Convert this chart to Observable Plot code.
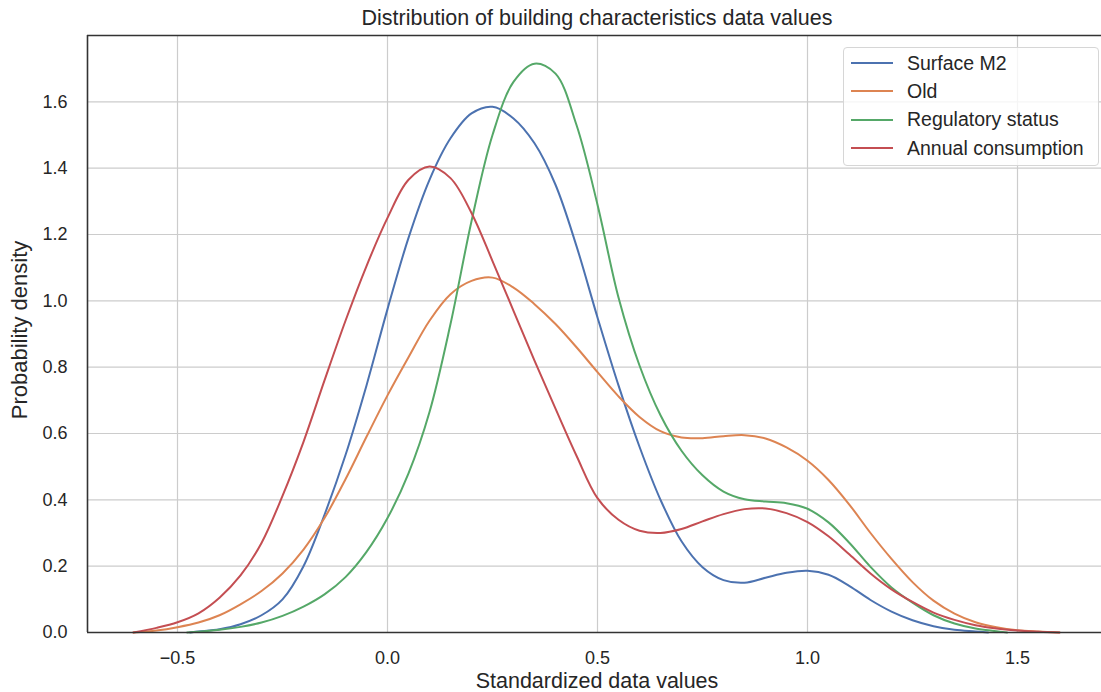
<!DOCTYPE html>
<html>
<head>
<meta charset="utf-8">
<script src="https://cdn.jsdelivr.net/npm/d3@7"></script>
<script src="https://cdn.jsdelivr.net/npm/@observablehq/plot@0.6"></script>
<style>
  body { margin: 0; background: white; }
  #wrap { position: relative; width: 1101px; height: 692px; overflow: hidden; font-family: "Liberation Sans", Arial, sans-serif; color: #262626; }
  #title { position: absolute; left: 87px; width: 1020px; top: 6px; text-align: center; font-size: 21.5px; line-height: 24px; white-space: nowrap; }
  #xlabel { position: absolute; left: 87px; width: 1020px; top: 671px; text-align: center; font-size: 21.5px; line-height: 21px; white-space: nowrap; }
  #ylabel { position: absolute; left: 20px; top: 330px; transform: translate(-50%, -50%) rotate(-90deg); font-size: 22px; line-height: 22px; white-space: nowrap; }
  #chart { position: absolute; left: 0; top: 32px; }
  #legend { position: absolute; left: 843px; top: 47px; width: 256px; height: 119px; border: 1px solid #d6d6d6; border-radius: 4px; background: rgba(255,255,255,0.8); box-sizing: border-box; padding-top: 1px; }
  .row { height: 28.3px; display: flex; align-items: center; font-size: 19.5px; white-space: nowrap; }
  .swatch { width: 42px; height: 2px; margin-left: 7px; margin-right: 14px; flex: none; }
</style>
</head>
<body>
<div id="wrap">
  <div id="chart"></div>
  <div id="title">Distribution of building characteristics data values</div>
  <div id="xlabel">Standardized data values</div>
  <div id="ylabel">Probability density</div>
  <div id="legend"></div>
</div>
<script>
const seriesNames = ["Surface M2", "Old", "Regulatory status", "Annual consumption"];
const seriesColors = ["#4c72b0", "#dd8452", "#55a868", "#c44e52"];
const xTicks = [-0.5, 0.0, 0.5, 1.0, 1.5];
const yTicks = [0.0, 0.2, 0.4, 0.6, 0.8, 1.0, 1.2, 1.4, 1.6];

const surfaceX = [-0.47,-0.45,-0.40,-0.35,-0.30,-0.25,-0.20,-0.15,-0.10,-0.05,0.00,0.05,0.10,0.15,0.20,0.25,0.30,0.35,0.40,0.45,0.50,0.55,0.60,0.65,0.70,0.75,0.80,0.85,0.90,0.95,1.00,1.05,1.10,1.15,1.20,1.25,1.30,1.35,1.40,1.43];
const surfaceY = [0,0.003,0.010,0.025,0.052,0.10,0.20,0.355,0.535,0.745,0.975,1.19,1.365,1.49,1.565,1.585,1.55,1.475,1.35,1.165,0.95,0.745,0.56,0.40,0.275,0.197,0.158,0.15,0.165,0.18,0.186,0.174,0.14,0.098,0.063,0.037,0.019,0.008,0.003,0];

const oldX = [-0.605,-0.55,-0.50,-0.45,-0.40,-0.35,-0.30,-0.25,-0.20,-0.15,-0.10,-0.05,0.00,0.05,0.10,0.15,0.20,0.25,0.30,0.35,0.40,0.45,0.50,0.55,0.60,0.65,0.70,0.75,0.80,0.85,0.90,0.95,1.00,1.05,1.10,1.15,1.20,1.25,1.30,1.35,1.40,1.45,1.50,1.55,1.60];
const oldY = [0,0.006,0.016,0.03,0.052,0.085,0.125,0.178,0.25,0.345,0.462,0.59,0.715,0.83,0.94,1.02,1.06,1.07,1.04,0.99,0.93,0.86,0.785,0.712,0.65,0.607,0.588,0.586,0.592,0.595,0.585,0.558,0.518,0.46,0.385,0.3,0.222,0.152,0.096,0.057,0.031,0.016,0.007,0.003,0];

const regX = [-0.477,-0.45,-0.40,-0.35,-0.30,-0.25,-0.20,-0.15,-0.10,-0.05,0.00,0.05,0.10,0.15,0.20,0.25,0.30,0.35,0.40,0.45,0.50,0.55,0.60,0.65,0.70,0.75,0.80,0.85,0.90,0.95,1.00,1.05,1.10,1.15,1.20,1.25,1.30,1.35,1.40,1.45,1.475];
const regY = [0,0.002,0.008,0.017,0.03,0.05,0.078,0.115,0.167,0.243,0.345,0.48,0.665,0.93,1.24,1.50,1.66,1.715,1.685,1.53,1.29,1.01,0.805,0.655,0.548,0.474,0.425,0.402,0.395,0.39,0.373,0.332,0.27,0.198,0.136,0.09,0.052,0.027,0.012,0.004,0];

const annualX = [-0.605,-0.55,-0.50,-0.45,-0.40,-0.35,-0.30,-0.25,-0.20,-0.15,-0.10,-0.05,0.00,0.05,0.10,0.15,0.20,0.25,0.30,0.35,0.40,0.45,0.50,0.55,0.60,0.65,0.70,0.75,0.80,0.85,0.90,0.95,1.00,1.05,1.10,1.15,1.20,1.25,1.30,1.35,1.40,1.45,1.50,1.55,1.60];
const annualY = [0,0.014,0.031,0.058,0.105,0.172,0.27,0.412,0.575,0.76,0.94,1.105,1.25,1.365,1.405,1.37,1.265,1.12,0.97,0.82,0.675,0.533,0.405,0.34,0.307,0.30,0.312,0.335,0.357,0.372,0.374,0.36,0.333,0.29,0.235,0.178,0.13,0.092,0.06,0.038,0.022,0.012,0.006,0.002,0];

const seriesX = [surfaceX, oldX, regX, annualX];
const seriesY = [surfaceY, oldY, regY, annualY];
const rows = [];
seriesNames.forEach((name, i) => {
  seriesX[i].forEach((x, j) => rows.push({series: name, x, y: seriesY[i][j]}));
});

const fmt = d3.format(".1f");

const chart = Plot.plot({
  width: 1101,
  height: 660,
  marginTop: 3,
  marginBottom: 60,
  marginLeft: 87,
  marginRight: 0,
  style: {fontFamily: "'Liberation Sans', Arial, sans-serif", fontSize: "18px", color: "#262626", background: "white"},
  x: {domain: [-0.7143, 1.7], ticks: xTicks, tickFormat: fmt, tickSize: 0, tickPadding: 19, label: null},
  y: {domain: [0, 1.8], ticks: yTicks, tickFormat: fmt, tickSize: 0, tickPadding: 20, label: null},
  color: {domain: seriesNames, range: seriesColors},
  marks: [
    Plot.ruleX(xTicks, {stroke: "#cccccc", strokeWidth: 1.2}),
    Plot.ruleY(yTicks, {stroke: "#cccccc", strokeWidth: 1.2}),
    Plot.line(rows, {x: "x", y: "y", z: "series", stroke: "series", strokeWidth: 2, curve: "catmull-rom"}),
    Plot.ruleY([0, 1.8], {stroke: "#333333", strokeWidth: 1.6}),
    Plot.ruleX([-0.7143], {stroke: "#333333", strokeWidth: 1.6})
  ]
});
document.getElementById("chart").appendChild(chart);

const legend = document.getElementById("legend");
seriesNames.forEach((name, i) => {
  const row = document.createElement("div");
  row.className = "row";
  const sw = document.createElement("span");
  sw.className = "swatch";
  sw.style.background = seriesColors[i];
  const label = document.createElement("span");
  label.textContent = name;
  row.appendChild(sw);
  row.appendChild(label);
  legend.appendChild(row);
});
</script>
</body>
</html>
